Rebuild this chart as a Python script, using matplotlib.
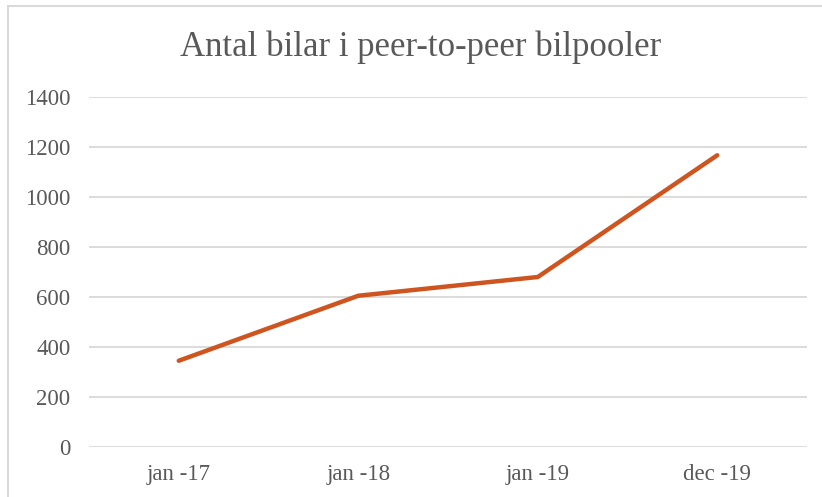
import matplotlib.pyplot as plt
from matplotlib.patches import Rectangle

# data
categories = ['jan -17', 'jan -18', 'jan -19', 'dec -19']
antal_bilar = [345, 605, 680, 1167]
y_ticks = [0, 200, 400, 600, 800, 1000, 1200, 1400]

plt.rcParams['font.family'] = ['Liberation Serif', 'DejaVu Serif']

W, H = 822, 497
fig = plt.figure(figsize=(W / 100, H / 100), dpi=100)
ax = fig.add_axes([89 / W, 1 - 447 / H, (807 - 89) / W, (447 - 97) / H])

# chart border
fig.patches.append(Rectangle((8 / W, -0.05), 1.1, 1 - 6 / H + 0.05, transform=fig.transFigure,
                             fill=False, edgecolor='#D9D9D9', linewidth=1.5))

x = list(range(len(categories)))
ax.plot(x, antal_bilar, color='#CF5520', linewidth=3.2, solid_capstyle='round',
        solid_joinstyle='round', zorder=3)

ax.set_xlim(-0.5, len(categories) - 0.5)
ax.set_ylim(0, 1400)
ax.set_yticks(y_ticks)
ax.set_xticks(x)
ax.set_xticklabels(categories)
ax.grid(axis='y', color='#D9D9D9', linewidth=1.3)
ax.set_axisbelow(True)
for s in ax.spines.values():
    s.set_visible(False)
ax.tick_params(length=0, labelsize=16.5, labelcolor='#595959')
ax.tick_params(axis='y', pad=13.5)
ax.tick_params(axis='x', pad=12)

fig.text(421 / W, 1 - 47 / H, 'Antal bilar i peer-to-peer bilpooler', ha='center', va='center',
         fontsize=25, color='#595959')

fig.savefig('out.png', dpi=100)
